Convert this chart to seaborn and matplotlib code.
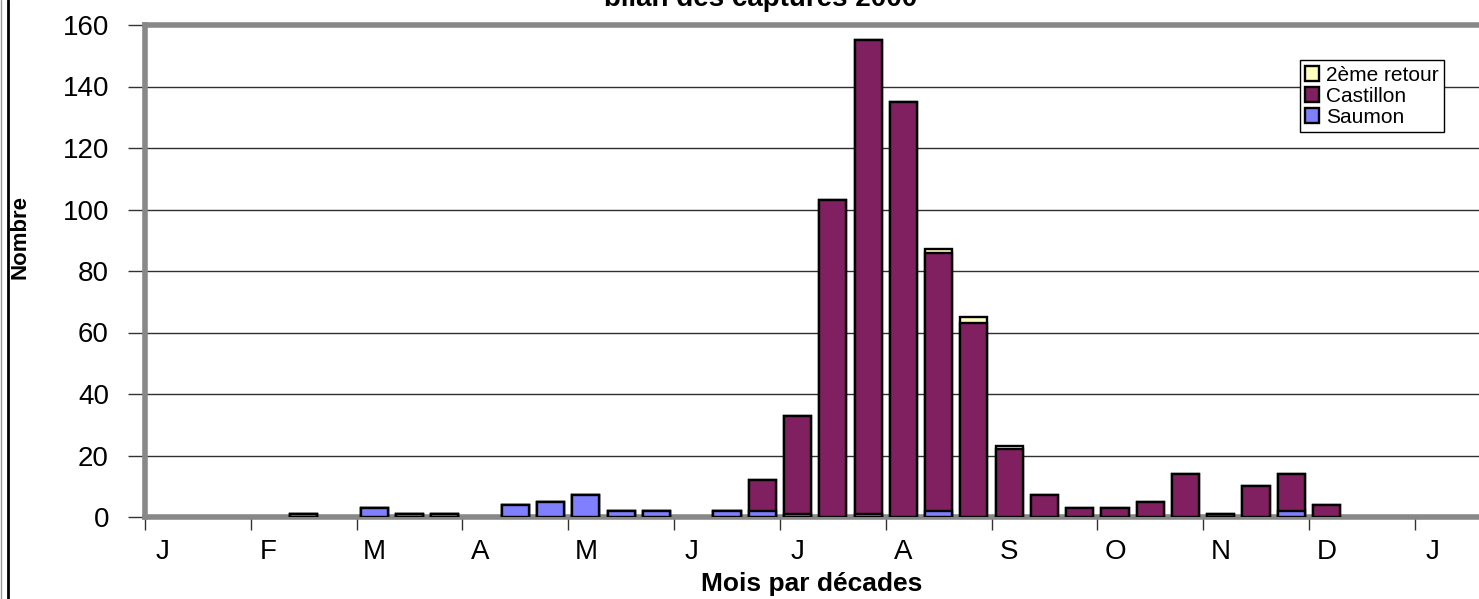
import numpy as np
import pandas as pd
import matplotlib
matplotlib.use("Agg")
import matplotlib.pyplot as plt
from matplotlib.lines import Line2D
import seaborn as sns

# --- data: catches per decade (10-day period), decade 0 = 1-10 January ---
decades = list(range(36))
saumon = [0, 0, 0, 0, 1, 0, 3, 1, 1, 0, 4, 5, 7, 2, 2, 0, 2, 2,
          1, 0, 1, 0, 2, 0, 0, 0, 0, 0, 0, 0, 0, 0, 2, 0, 0, 0]
castillon = [0, 0, 0, 0, 0, 0, 0, 0, 0, 0, 0, 0, 0, 0, 0, 0, 0, 10,
             32, 103, 154, 135, 84, 63, 22, 7, 3, 3, 5, 14, 1, 10, 12, 4, 0, 0]
retour2 = [0] * 22 + [1, 2, 1] + [0] * 11
month_labels = ["J", "F", "M", "A", "M", "J", "J", "A", "S", "O", "N", "D", "J"]

df = pd.DataFrame({"decade": decades, "Saumon": saumon,
                   "Castillon": castillon, "2ème retour": retour2})
df["c_top"] = df["Saumon"] + df["Castillon"]
df["r_top"] = df["c_top"] + df["2ème retour"]

colors = {"Saumon": "#8080FF", "Castillon": "#802060", "2ème retour": "#FFFFC0"}

sns.set_style("white")
plt.rcParams["font.family"] = ["Liberation Sans", "DejaVu Sans"]
for key in ["text.color", "axes.labelcolor", "xtick.color", "ytick.color"]:
    plt.rcParams[key] = "black"

fig = plt.figure(figsize=(14.79, 5.99), dpi=100)
ax = fig.add_axes([145 / 1479, 82 / 599, 1 - 145 / 1479, 492 / 599])

# stacked bars drawn as cumulative layers, back to front
layers = [("r_top", "2ème retour"), ("c_top", "Castillon"), ("Saumon", "Saumon")]
for col, name in layers:
    sub = df[df[col] > 0]
    sns.barplot(data=sub, x="decade", y=col, native_scale=True, ax=ax,
                color=colors[name], edgecolor="black", linewidth=1.7,
                width=0.77, saturation=1, label=name, zorder=3)

ax.set_xlim(-0.5, 37.32)
ax.set_ylim(0, 160)
ax.set_yticks(range(0, 161, 20))
ax.yaxis.grid(True, color="#303030", linewidth=1)
ax.set_axisbelow(True)

# month boundaries as ticks, month letters on first decade of each month
ax.set_xticks([3 * k - 0.5 for k in range(13)])
ax.set_xticklabels([])
ax.set_xticks([3 * k for k in range(13)], minor=True)
ax.set_xticklabels(month_labels, minor=True)
ax.tick_params(axis="x", which="major", length=9, width=1, color="#333333",
               direction="out", bottom=True)
ax.tick_params(axis="x", which="minor", length=0, pad=16, labelsize=20)
ax.tick_params(axis="y", length=12, width=1, color="#333333", direction="out",
               left=True, pad=14, labelsize=20)

for side in ["top", "left", "bottom"]:
    ax.spines[side].set_color("#888888")
    ax.spines[side].set_linewidth(4)
ax.spines["right"].set_visible(False)

ax.set_xlabel("Mois par décades", fontsize=19, fontweight="bold", labelpad=5)
ax.set_ylabel("")
fig.text(20 / 1479, 1 - 237 / 599, "Nombre", rotation=90, fontsize=16,
         fontweight="bold", ha="center", va="center")

# title is clipped by the top edge in the original
fig.text(761 / 1479, 1 - 6 / 599, "bilan des captures 2000", fontsize=20,
         fontweight="bold", ha="center", va="baseline")

# left frame line of the original worksheet
fig.add_artist(Line2D([8 / 1479, 8 / 1479], [0, 1], color="black",
                      linewidth=2, transform=fig.transFigure))
fig.add_artist(Line2D([1 / 1479, 1 / 1479], [0, 1], color="#999999",
                      linewidth=1, transform=fig.transFigure))

handles, labels = ax.get_legend_handles_labels()
ax.legend(handles, labels, loc="upper right",
          bbox_to_anchor=(1454 / 1479, 1 - 50 / 599),
          bbox_transform=fig.transFigure, fontsize=15, frameon=True,
          fancybox=False, edgecolor="black", framealpha=1,
          handlelength=0.7, handleheight=0.7, handletextpad=0.3,
          labelspacing=0.1, borderpad=0.25)
ax.get_legend().get_frame().set_linewidth(1)

fig.savefig("out.png", dpi=100)
